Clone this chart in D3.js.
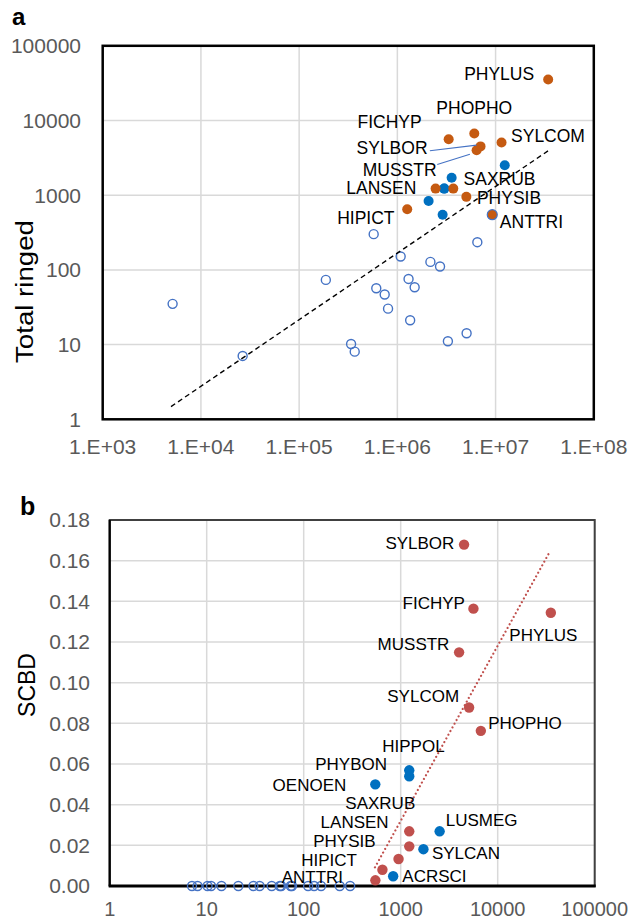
<!DOCTYPE html>
<html><head><meta charset="utf-8">
<script src="https://cdn.jsdelivr.net/npm/d3@7"></script>
<style>
body{margin:0;background:#fff}
svg{display:block;font-family:"Liberation Sans",Arial,sans-serif}
</style>
</head><body>
<svg id="c" width="632" height="921"></svg>
<script>
// ---------- DATA ----------
// labelled species with filled markers (orange in a, red in b)
const redNames   = ["PHYLUS","PHOPHO","FICHYP","SYLBOR","MUSSTR","SYLCOM","SAXRUB","LANSEN","PHYSIB","HIPICT","ANTTRI"];
const redPop     = [3.43e7, 6.07e6, 3.33e6, 7.03e6, 6.41e6, 1.15e7, 3.71e6, 2.45e6, 5.04e6, 1.26e6, 9.25e6];
const redRinged  = [35300, 6700, 5620, 4500, 4000, 5070, 1225, 1225, 950, 648, 548];
const redSCBD    = [0.1344, 0.0763, 0.1364, 0.1679, 0.1149, 0.0878, 0.0269, 0.0195, 0.0133, 0.0080, 0.0028];
// blue filled markers
const blueNames  = ["LUSMEG","SYLCAN","HIPPOL","PHYBON","ACRSCI","OENOEN"];
const bluePop    = [1.24e7, 3.57e6, 3.0e6, 3.0e6, 2.08e6, 2.89e6];
const blueRinged = [2520, 1715, 1225, 1225, 836, 547];
const blueSCBD   = [0.0269, 0.0181, 0.0569, 0.0540, 0.0048, 0.0500];
// open markers (SCBD = 0)
const openPop    = [5.74e5, 1.08e6, 6.52e6, 2.17e6, 2.72e6, 1.87e5, 1.30e6, 1.50e6, 6.1e5, 7.43e5, 5.15e3, 8.04e5, 1.35e6, 5.07e6, 3.27e6, 3.38e5, 3.68e5, 2.66e4];
const openRinged = [301, 151, 235, 128, 111, 73.5, 75.7, 58.6, 56.8, 46.8, 35.1, 30.3, 21.2, 14.2, 11.1, 10.2, 8.05, 7.05];
const openSCBD   = [0,0,0,0,0,0,0,0,0,0,0,0,0,0,0,0,0,0];
// trendlines (end points)
const trendAx = [4960, 3.57e7];
const trendAy = [1.48, 4070];
const trendBx = [543, 33800];
const trendBy = [0.0092, 0.1637];
// ticks
const aXTicks = [1e3,1e4,1e5,1e6,1e7,1e8];
const aXTickLabels = ["1.E+03","1.E+04","1.E+05","1.E+06","1.E+07","1.E+08"];
const aYTicks = [1,10,100,1000,10000,100000];
const aYTickLabels = ["1","10","100","1000","10000","100000"];
const bXTicks = [1,10,100,1000,10000,100000];
const bXTickLabels = ["1","10","100","1000","10000","100000"];
const bYTicks = [0,0.02,0.04,0.06,0.08,0.10,0.12,0.14,0.16,0.18];
const bYTickLabels = ["0.00","0.02","0.04","0.06","0.08","0.10","0.12","0.14","0.16","0.18"];

// ---------- LAYOUT (label placement, not data) ----------
const labelLayoutA = {
  PHYLUS:{dx:-14,dy:-6,a:"end"}, PHOPHO:{dx:0,dy:-26,a:"middle"}, FICHYP:{dx:-27,dy:-17,a:"end"},
  SYLCOM:{dx:9.5,dy:-7,a:"start"}, SYLBOR:{dx:-53,dy:1,a:"end"}, MUSSTR:{dx:-40,dy:19.4,a:"end"},
  SAXRUB:{dx:10.3,dy:-10,a:"start"}, LANSEN:{dx:-19.3,dy:-0.5,a:"end"}, PHYSIB:{dx:10.6,dy:1.5,a:"start"},
  HIPICT:{dx:-12.7,dy:8.5,a:"end"}, ANTTRI:{dx:7.6,dy:7.5,a:"start"}
};
const leaderA = { SYLBOR:[[-50.7,4.4],[-4,-1.3]], MUSSTR:[[-39.4,14.3],[-6.7,4]] };
const labelLayoutB = {
  SYLBOR:{dx:-9.7,dy:-1.3,a:"end"}, FICHYP:{dx:-8.5,dy:-5.9,a:"end"}, PHYLUS:{dx:-41.5,dy:22.3,a:"start"},
  MUSSTR:{dx:-9.7,dy:-8.2,a:"end"}, SYLCOM:{dx:-10,dy:-11.7,a:"end"}, PHOPHO:{dx:7.3,dy:-7.4,a:"start"},
  HIPPOL:{dx:4.2,dy:-24.3,a:"middle"}, PHYBON:{dx:-22.2,dy:-12,a:"end"}, OENOEN:{dx:-29,dy:1,a:"end"},
  SAXRUB:{dx:6,dy:-28.4,a:"end"}, LANSEN:{dx:-20.6,dy:-24.4,a:"end"}, LUSMEG:{dx:6.1,dy:-11.7,a:"start"},
  PHYSIB:{dx:-23,dy:-18,a:"end"}, SYLCAN:{dx:8.5,dy:4.3,a:"start"}, HIPICT:{dx:-25.4,dy:-9.4,a:"end"},
  ACRSCI:{dx:9.2,dy:-0.3,a:"start"}, ANTTRI:{dx:-32.3,dy:-3.3,a:"end"}
};

const svg = d3.select("#c");
const GRID = "#d9d9d9", TICK = "#595959";
const ORANGE = "#C55A11", BLUE = "#0070C0", OPEN = "#4472C4", RED = "#C0504D";

// ---------- PANEL A ----------
const xA = d3.scaleLog().domain([1e3,1e8]).range([102.7,593.8]);
const yA = d3.scaleLog().domain([1,1e5]).range([419.3,45.8]);
const gA = svg.append("g");
gA.selectAll("line.gx").data(aXTicks).join("line")
  .attr("x1",d=>xA(d)).attr("x2",d=>xA(d)).attr("y1",yA(1e5)).attr("y2",yA(1))
  .attr("stroke",GRID).attr("stroke-width",1.5);
gA.selectAll("line.gy").data(aYTicks).join("line")
  .attr("y1",d=>yA(d)).attr("y2",d=>yA(d)).attr("x1",xA(1e3)).attr("x2",xA(1e8))
  .attr("stroke",GRID).attr("stroke-width",1.5);
gA.append("rect").attr("x",xA(1e3)).attr("y",yA(1e5))
  .attr("width",xA(1e8)-xA(1e3)).attr("height",yA(1)-yA(1e5))
  .attr("fill","none").attr("stroke","#000").attr("stroke-width",2.5);
gA.selectAll("text.yt").data(aYTicks).join("text")
  .attr("x",81).attr("y",d=>yA(d)).attr("dy","0.35em").attr("text-anchor","end")
  .attr("font-size",21).attr("fill",TICK).text((d,i)=>aYTickLabels[i]);
gA.selectAll("text.xt").data(aXTicks).join("text")
  .attr("x",d=>xA(d)).attr("y",454).attr("text-anchor","middle")
  .attr("font-size",21).attr("fill",TICK).text((d,i)=>aXTickLabels[i]);
gA.append("text").attr("transform","translate(33,291.5) rotate(-90)")
  .attr("text-anchor","middle").attr("font-size",23).attr("fill","#000")
  .attr("textLength",143).attr("lengthAdjust","spacingAndGlyphs").text("Total ringed");
gA.append("text").attr("x",12).attr("y",25).attr("font-size",24).attr("font-weight","bold").text("a");

// markers
gA.selectAll("circle.o").data(openPop).join("circle")
  .attr("cx",d=>xA(d)).attr("cy",(d,i)=>yA(openRinged[i])).attr("r",4.5)
  .attr("fill","none").attr("stroke",OPEN).attr("stroke-width",1.4);
gA.selectAll("circle.b").data(bluePop).join("circle")
  .attr("cx",d=>xA(d)).attr("cy",(d,i)=>yA(blueRinged[i])).attr("r",5)
  .attr("fill",BLUE);
gA.selectAll("circle.r").data(redPop).join("circle")
  .attr("cx",d=>xA(d)).attr("cy",(d,i)=>yA(redRinged[i])).attr("r",5)
  .attr("fill",ORANGE).attr("stroke",(d,i)=>redNames[i]==="ANTTRI"?OPEN:"none").attr("stroke-width",1.2);
// trend
const trendAData = trendAx.map((x,i)=>[x,trendAy[i]]);
gA.append("path").datum(trendAData)
  .attr("d",d3.line().x(d=>xA(d[0])).y(d=>yA(d[1])))
  .attr("fill","none").attr("stroke","#000").attr("stroke-width",1.4).attr("stroke-dasharray","5,3.5");
// leader lines
redNames.forEach((n,i)=>{
  if(!leaderA[n]) return;
  const px=xA(redPop[i]), py=yA(redRinged[i]);
  const L=leaderA[n];
  gA.append("line").attr("x1",px+L[0][0]).attr("y1",py+L[0][1]).attr("x2",px+L[1][0]).attr("y2",py+L[1][1])
    .attr("stroke",OPEN).attr("stroke-width",1.1);
});
// labels
redNames.forEach((n,i)=>{
  const L=labelLayoutA[n]; const px=xA(redPop[i]), py=yA(redRinged[i]);
  gA.append("text").attr("x",px+L.dx).attr("y",py+L.dy).attr("dy","0.35em")
    .attr("text-anchor",L.a).attr("font-size",17.5).attr("fill","#000").text(n);
});

// ---------- PANEL B ----------
const xB = d3.scaleLog().domain([1,1e5]).range([109.7,594.7]);
const yB = d3.scaleLinear().domain([0,0.18]).range([886,520]);
const gB = svg.append("g");
gB.selectAll("line.gx").data(bXTicks).join("line")
  .attr("x1",d=>xB(d)).attr("x2",d=>xB(d)).attr("y1",yB(0.18)).attr("y2",yB(0))
  .attr("stroke",GRID).attr("stroke-width",1.5);
gB.selectAll("line.gy").data(bYTicks).join("line")
  .attr("y1",d=>yB(d)).attr("y2",d=>yB(d)).attr("x1",xB(1)).attr("x2",xB(1e5))
  .attr("stroke",GRID).attr("stroke-width",1.5);
gB.append("rect").attr("x",xB(1)).attr("y",yB(0.18))
  .attr("width",xB(1e5)-xB(1)).attr("height",yB(0)-yB(0.18))
  .attr("fill","none").attr("stroke","#404040").attr("stroke-width",2);
gB.append("line").attr("x1",xB(1)-1).attr("x2",xB(1e5)+1).attr("y1",yB(0)).attr("y2",yB(0))
  .attr("stroke","#000").attr("stroke-width",2.8);
gB.append("line").attr("x1",xB(1)).attr("x2",xB(1)).attr("y1",yB(0.18)).attr("y2",yB(0))
  .attr("stroke","#000").attr("stroke-width",2.2);
gB.selectAll("text.yt").data(bYTicks).join("text")
  .attr("x",90).attr("y",d=>yB(d)).attr("dy","0.35em").attr("text-anchor","end")
  .attr("font-size",21).attr("fill",TICK).text((d,i)=>bYTickLabels[i]);
gB.selectAll("text.xt").data(bXTicks).join("text")
  .attr("x",d=>xB(d)).attr("y",915.5).attr("text-anchor","middle")
  .attr("font-size",20).attr("fill",TICK).text((d,i)=>bXTickLabels[i]);
gB.append("text").attr("transform","translate(35,685) rotate(-90)")
  .attr("text-anchor","middle").attr("font-size",23).attr("fill","#000").text("SCBD");
gB.append("text").attr("x",20).attr("y",515).attr("font-size",25).attr("font-weight","bold").text("b");

gB.selectAll("circle.o").data(openRinged).join("circle")
  .attr("cx",d=>xB(d)).attr("cy",(d,i)=>yB(openSCBD[i])).attr("r",4.5)
  .attr("fill","none").attr("stroke",OPEN).attr("stroke-width",1.4);
gB.selectAll("circle.b").data(blueRinged).join("circle")
  .attr("cx",d=>xB(d)).attr("cy",(d,i)=>yB(blueSCBD[i])).attr("r",5.2).attr("fill",BLUE);
gB.selectAll("circle.r").data(redRinged).join("circle")
  .attr("cx",d=>xB(d)).attr("cy",(d,i)=>yB(redSCBD[i])).attr("r",5.2).attr("fill",RED);
const trendBData = trendBx.map((x,i)=>[x,trendBy[i]]);
gB.append("path").datum(trendBData)
  .attr("d",d3.line().x(d=>xB(d[0])).y(d=>yB(d[1])))
  .attr("fill","none").attr("stroke",RED).attr("stroke-width",2.2)
  .attr("stroke-linecap","round").attr("stroke-dasharray","0.01,4.2");
const allB = redNames.map((n,i)=>({n,x:redRinged[i],y:redSCBD[i]}))
  .concat(blueNames.map((n,i)=>({n,x:blueRinged[i],y:blueSCBD[i]})));
allB.forEach(p=>{
  const L=labelLayoutB[p.n];
  gB.append("text").attr("x",xB(p.x)+L.dx).attr("y",yB(p.y)+L.dy).attr("dy","0.35em")
    .attr("text-anchor",L.a).attr("font-size",17).attr("fill","#000").text(p.n);
});
</script>
</body></html>
